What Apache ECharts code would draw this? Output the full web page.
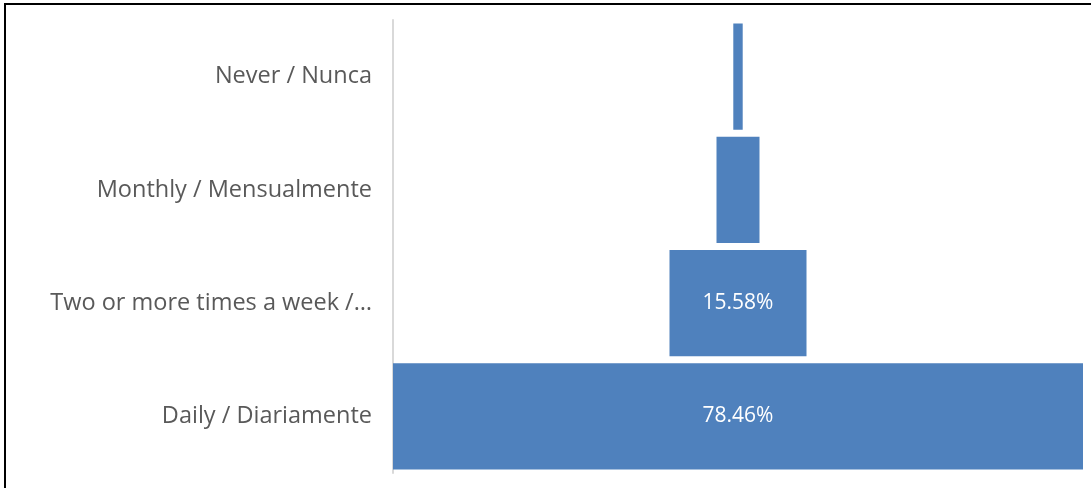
<!DOCTYPE html>
<html>
<head>
<meta charset="utf-8">
<script src="https://cdn.jsdelivr.net/npm/echarts@6/dist/echarts.min.js"></script>
<style>
  html, body { margin: 0; padding: 0; background: #fff; }
  #frame {
    position: absolute; left: 4px; top: 3px; width: 1100px; height: 500px;
    border-left: 2px solid #000; border-top: 2px solid #000; box-sizing: border-box;
  }
  #chart { position: absolute; left: 0; top: 0; width: 1091px; height: 488px; }
</style>
</head>
<body>
<div id="frame"></div>
<div id="chart"></div>
<script>
// Frequency categories, top to bottom
const categories = ['Never / Nunca', 'Monthly / Mensualmente', 'Two or more times a week /\u2026', 'Daily / Diariamente'];
// Share of responses (%)
const shares = [1.07, 4.89, 15.58, 78.46];

const widest = Math.max(...shares);
// Invisible spacer that centres each bar on the funnel axis
const spacer = shares.map(v => (widest - v) / 2);

const chart = echarts.init(document.getElementById('chart'));
chart.setOption({
  animation: false,
  grid: { left: 393, right: 8, top: 20, bottom: 15 },
  xAxis: {
    type: 'value', min: 0, max: widest,
    show: false
  },
  yAxis: {
    type: 'category', data: categories, inverse: true, offset: 2,
    axisLine: { show: true, lineStyle: { color: '#d9d9d9', width: 2 } },
    axisTick: { show: false },
    axisLabel: { color: '#595959', fontFamily: 'Open Sans', fontSize: 23.5, margin: 19 }
  },
  series: [
    {
      type: 'bar', stack: 'f', data: spacer, silent: true,
      itemStyle: { color: 'transparent' }, barCategoryGap: '6%'
    },
    {
      type: 'bar', stack: 'f', data: shares, barCategoryGap: '6%',
      itemStyle: { color: '#4f81bd' },
      label: {
        show: true, position: 'inside', color: '#fff',
        fontFamily: 'Open Sans', fontSize: 21,
        formatter: p => p.value >= 10 ? p.value.toFixed(2) + '%' : ''
      }
    }
  ]
});
</script>
</body>
</html>
